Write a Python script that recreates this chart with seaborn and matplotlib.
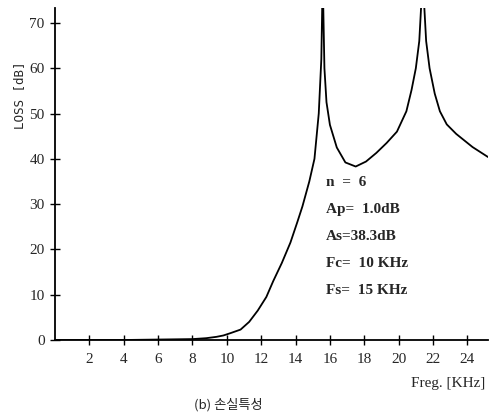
# LOSS CHARACTERISTIC - elliptic low-pass filter
import pandas as pd
import matplotlib
matplotlib.use("Agg")
import matplotlib.pyplot as plt
import seaborn as sns

# Values.
freq = [0, 2, 4, 6, 8, 8.8, 9.4, 9.8, 10.2, 10.8, 11.3, 11.8, 12.3, 12.7,
        13.2, 13.7, 14.1, 14.4, 14.8, 15.1, 15.35, 15.5, 15.58, 15.68, 15.8,
        16.0, 16.4, 16.9, 17.5, 18.1, 18.7, 19.3, 19.9, 20.45, 20.75, 21.0,
        21.2, 21.4, 21.6, 21.8, 22.1, 22.4, 22.8, 23.35, 24.3, 25.2]
loss = [0, 0, 0, 0.1, 0.2, 0.4, 0.7, 1.0, 1.5, 2.3, 4.0, 6.5, 9.5, 13.0,
        17.0, 21.5, 26.0, 29.5, 35.0, 40.0, 50.0, 62.0, 80.0, 60.0, 52.5,
        47.5, 42.5, 39.2, 38.3, 39.4, 41.3, 43.5, 46.0, 50.5, 55.2, 60.0,
        66.0, 80.0, 66.0, 60.0, 54.4, 50.5, 47.6, 45.5, 42.6, 40.4]
xticks = [2, 4, 6, 8, 10, 12, 14, 16, 18, 20, 22, 24]
yticks = [0, 10, 20, 30, 40, 50, 60, 70]
params = ["n  =  6", "Ap=  1.0dB", "As=38.3dB", "Fc=  10 KHz", "Fs=  15 KHz"]

df = pd.DataFrame({"f": freq, "loss": loss})

sns.set_theme(style="white")
plt.rcParams["font.family"] = ["Liberation Serif", "DejaVu Serif"]

W, H = 491, 416
fig = plt.figure(figsize=(W / 100, H / 100), dpi=100)
ax = fig.add_axes([55 / W, (H - 340) / H, (488 - 55) / W, (340 - 8) / H])

sns.lineplot(data=df, x="f", y="loss", ax=ax, color="black", linewidth=1.3)

ax.set_xlim(0, 25.2)
ax.set_ylim(0, 73.3)
ax.set_xticks(xticks)
ax.set_yticks(yticks)
ax.set_xticklabels([str(t) for t in xticks], fontsize=11)
ax.set_yticklabels([str(t) for t in yticks], fontsize=11)
ax.tick_params(direction="inout", length=7, width=1, color="black",
               left=True, bottom=True, pad=4)
ax.tick_params(axis="x", pad=6)
for side in ["top", "right"]:
    ax.spines[side].set_visible(False)
for side in ["left", "bottom"]:
    ax.spines[side].set_color("black")
    ax.spines[side].set_linewidth(1.3)
ax.set_xlabel("")
ax.set_ylabel("")

fig.text(20 / W, 1 - 95 / H, "LOSS [dB]", rotation=90, ha="center",
         va="center", fontsize=9, family="DejaVu Sans Mono")
fig.text(485 / W, 1 - 383 / H, "Freg. [KHz]", ha="right", va="center",
         fontsize=11)
fig.text(228 / W, 1 - 405 / H, "(b) 손실특성", ha="center", va="center",
         fontsize=9.5, family=["Noto Sans CJK KR", "DejaVu Sans"])

for i, s in enumerate(params):
    fig.text(326 / W, 1 - (182 + 27.2 * i) / H, s, ha="left", va="center",
             fontsize=11, fontweight="bold")

fig.savefig("out.png", dpi=100)
